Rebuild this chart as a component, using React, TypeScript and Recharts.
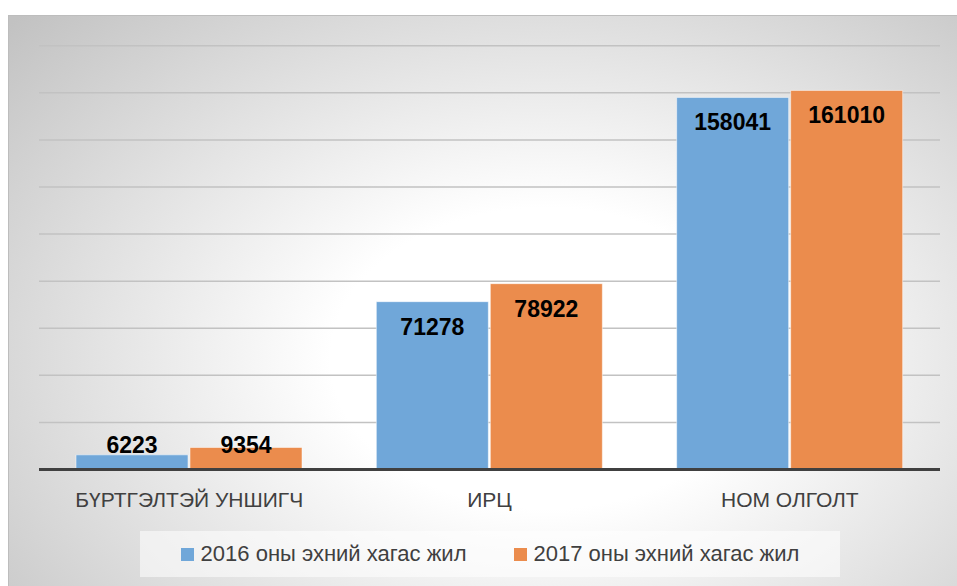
import React from 'react';
import { BarChart, Bar, XAxis, YAxis, CartesianGrid, Legend, LabelList } from 'recharts';

const categories = ['БҮРТГЭЛТЭЙ УНШИГЧ', 'ИРЦ', 'НОМ ОЛГОЛТ'];
const series2016 = [6223, 71278, 158041];
const series2017 = [9354, 78922, 161010];
const seriesNames = ['2016 оны эхний хагас жил', '2017 оны эхний хагас жил'];
const yTicks = [0, 20000, 40000, 60000, 80000, 100000, 120000, 140000, 160000, 180000];

const data = categories.map((name, i) => ({
  name,
  y2016: series2016[i],
  y2017: series2017[i],
}));

const BLUE = '#70a7d9';
const ORANGE = '#eb8c4d';
const BASE_Y = 469.5;

// Excel style "inside end" label: 25px below bar top, but never below the base
const renderValueLabel = (props: any) => {
  const { x, y, width, value } = props;
  const cy = Math.min(y + 25, BASE_Y - 25);
  return (
    <text
      x={x + width / 2}
      y={cy}
      textAnchor="middle"
      dominantBaseline="central"
      fontFamily="'Liberation Sans', Arial, sans-serif"
      fontWeight="bold"
      fontSize={23}
      fill="#000"
    >
      {value}
    </text>
  );
};

const renderLegend = (props: any) => {
  const { payload } = props;
  return (
    <div
      style={{
        width: 700,
        height: 46,
        background: 'rgba(255,255,255,0.55)',
        display: 'flex',
        alignItems: 'center',
        justifyContent: 'center',
        gap: 47,
        fontFamily: "'Liberation Sans', Arial, sans-serif",
        fontSize: 22,
        color: '#404040',
      }}
    >
      {payload.map((p: any) => (
        <div key={p.value} style={{ display: 'flex', alignItems: 'center' }}>
          <span style={{ display: 'inline-block', width: 13, height: 13, background: p.color, marginRight: 7 }} />
          <span>{p.value}</span>
        </div>
      ))}
    </div>
  );
};

export default function App() {
  return (
    <div style={{ position: 'fixed', left: 0, top: 0, width: 957, height: 586, overflow: 'hidden', background: '#fff' }}>
      <div
        style={{
          position: 'absolute',
          left: 8,
          top: 15,
          width: 960,
          height: 590,
          border: '1px solid #bdbdbd',
          background: 'radial-gradient(ellipse 75% 85% at 56% 58%, #ffffff 0%, #ffffff 30%, #c2c2c2 100%)',
        }}
      />
      <div style={{ position: 'absolute', left: 0, top: 0 }}>
        <BarChart
          width={957}
          height={586}
          data={data}
          margin={{ top: 45.7, right: 17, bottom: 76.5, left: 39 }}
          barCategoryGap={37}
          barGap={2}
        >
          <CartesianGrid horizontal vertical={false} stroke="#c2c2c2" strokeWidth={1.5} />
          <YAxis hide domain={[0, 180000]} ticks={yTicks} />
          <XAxis
            dataKey="name"
            height={40}
            tickLine={false}
            tickMargin={17}
            axisLine={{ stroke: '#404040', strokeWidth: 3 }}
            tick={{ fontSize: 21, fill: '#404040', fontFamily: "'Liberation Sans', Arial, sans-serif" }}
          />
          <Legend
            layout="horizontal"
            verticalAlign="middle"
            align="center"
            wrapperStyle={{ left: 140, top: 531, width: 700, height: 46 }}
            content={renderLegend}
          />
          <Bar dataKey="y2016" name={seriesNames[0]} fill={BLUE} stroke="#ffffff" strokeOpacity={0.5} strokeWidth={1} isAnimationActive={false}>
            <LabelList dataKey="y2016" content={renderValueLabel} />
          </Bar>
          <Bar dataKey="y2017" name={seriesNames[1]} fill={ORANGE} stroke="#ffffff" strokeOpacity={0.5} strokeWidth={1} isAnimationActive={false}>
            <LabelList dataKey="y2017" content={renderValueLabel} />
          </Bar>
        </BarChart>
      </div>
    </div>
  );
}
